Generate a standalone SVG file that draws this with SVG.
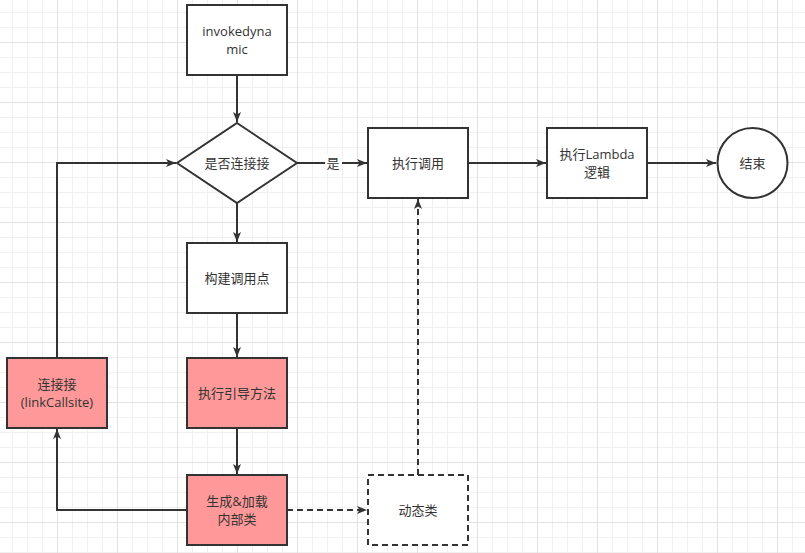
<svg xmlns="http://www.w3.org/2000/svg" width="805" height="553" viewBox="0 0 805 553">
<defs>
<pattern id="minor" x="12" y="12" width="15" height="15" patternUnits="userSpaceOnUse">
<path d="M0 0.5H15M0.5 0V15" fill="none" stroke="#f0f0f0" stroke-width="1"/>
</pattern>
<pattern id="major" x="57" y="42" width="60" height="60" patternUnits="userSpaceOnUse">
<path d="M0 0.5H60M0.5 0V60" fill="none" stroke="#e2e2e2" stroke-width="1"/>
</pattern>
<marker id="arr" viewBox="0 0 10 10" refX="10" refY="5" markerWidth="10" markerHeight="10" markerUnits="userSpaceOnUse" orient="auto">
<path d="M0 1L10 5L0 9L2.5 5Z" fill="#333"/>
</marker>
</defs>
<style>
.n{fill:#fff;stroke:#333;stroke-width:2}
.p{fill:#ff9999;stroke:#333;stroke-width:2}
.d{fill:#fff;stroke:#333;stroke-width:2;stroke-dasharray:6 4}
.t{font-family:"Open Sans","Noto Sans CJK SC",sans-serif;font-size:13px;fill:#333;text-anchor:middle;dominant-baseline:central}
.c{fill:none;stroke:#333;stroke-width:2;marker-end:url(#arr)}
.cd{fill:none;stroke:#333;stroke-width:2;stroke-dasharray:6 4;marker-end:url(#arr)}
</style>
<rect width="805" height="553" fill="#fff"/>
<rect width="805" height="553" fill="url(#minor)"/>
<rect width="805" height="553" fill="url(#major)"/>
<g id="connectors">
<path class="c" d="M237 75V122"/>
<path class="c" d="M297 163H367"/>
<path class="c" d="M468 163H546"/>
<path class="c" d="M647 163H716"/>
<path class="c" d="M237 203V242"/>
<path class="c" d="M237 313V357"/>
<path class="c" d="M237 428V474"/>
<path class="c" d="M187 510H57V429"/>
<path class="c" d="M57 358V163H176"/>
<path class="cd" d="M287 510H367"/>
<path class="cd" d="M418 475V199"/>
<rect x="325" y="154" width="17" height="18" fill="#fff"/>
<text class="t" x="333" y="163">是</text>
</g>
<g id="invokedynamic">
<rect class="n" x="187" y="5" width="100" height="70"/>
<text class="t" x="237" y="31">invokedyna</text>
<text class="t" x="237" y="49">mic</text>
</g>
<g id="decision">
<path class="n" d="M237 123L297 163L237 203L177 163Z"/>
<text class="t" x="237" y="163">是否连接接</text>
</g>
<g id="exec-call">
<rect class="n" x="368" y="128" width="100" height="70"/>
<text class="t" x="418" y="163">执行调用</text>
</g>
<g id="exec-lambda">
<rect class="n" x="547" y="128" width="100" height="70"/>
<text class="t" x="597" y="154">执行Lambda</text>
<text class="t" x="597" y="172">逻辑</text>
</g>
<g id="end">
<circle class="n" cx="752.5" cy="163" r="35"/>
<text class="t" x="752.5" y="163">结束</text>
</g>
<g id="build-callsite">
<rect class="n" x="187" y="243" width="100" height="70"/>
<text class="t" x="237" y="278">构建调用点</text>
</g>
<g id="bootstrap">
<rect class="p" x="187" y="358" width="100" height="70"/>
<text class="t" x="237" y="393">执行引导方法</text>
</g>
<g id="link-callsite">
<rect class="p" x="7" y="358" width="100" height="70"/>
<text class="t" x="57" y="384">连接接</text>
<text class="t" x="57" y="402">(linkCallsite)</text>
</g>
<g id="generate">
<rect class="p" x="187" y="475" width="100" height="70"/>
<text class="t" x="237" y="501">生成&amp;加载</text>
<text class="t" x="237" y="519">内部类</text>
</g>
<g id="dynamic-class">
<rect class="d" x="368" y="475" width="100" height="70"/>
<text class="t" x="418" y="510">动态类</text>
</g>
</svg>
